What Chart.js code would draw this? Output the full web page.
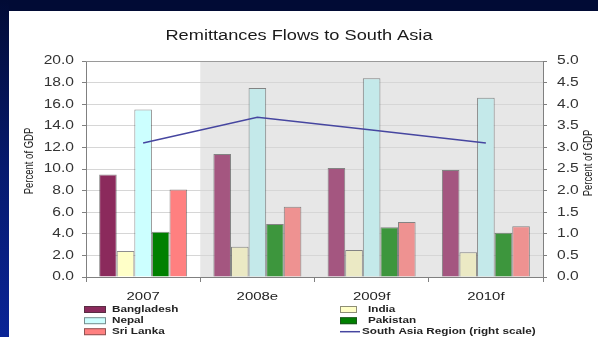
<!DOCTYPE html>
<html>
<head>
<meta charset="utf-8">
<script src="https://cdn.jsdelivr.net/npm/chart.js@4/dist/chart.umd.min.js"></script>
<style>
  html, body { margin: 0; padding: 0; background: #fff; overflow: hidden; }
  canvas { display: block; }
</style>
</head>
<body>
<canvas id="chart" width="598" height="337" style="width:598px;height:337px"></canvas>
<script>
// Remittance flows as a share of GDP, by country (left scale) and region (right scale)
const categories = ['2007', '2008e', '2009f', '2010f'];
const bangladesh = [9.5, 11.4, 10.1, 9.9];
const india      = [2.4, 2.8, 2.5, 2.3];
const nepal      = [15.5, 17.5, 18.4, 16.6];
const pakistan   = [4.2, 4.9, 4.6, 4.1];
const sriLanka   = [8.1, 6.5, 5.1, 4.7];
const southAsia  = [3.1, 3.7, 3.4, 3.1];

// Axis ranges and tick steps
const leftAxis  = { min: 0, max: 20, step: 2 };
const rightAxis = { min: 0, max: 5, step: 0.5 };

const FONT = '"Liberation Sans", Arial, sans-serif';
const TEXT_STRETCH = 1.3;   // text is set wide, as on the slide

// Colours: actual year solid, estimates/forecasts muted
const actualOrForecast = (solid, muted) => categories.map((c, i) => (i === 0 ? solid : muted));
const palette = {
  bangladesh: ['#8b2a5c', '#a45680'],
  india:      ['#ffffc8', '#ebe9c4'],
  nepal:      ['#ccffff', '#c4e9ea'],
  pakistan:   ['#008000', '#3d963d'],
  sriLanka:   ['#ff8080', '#ee9291']
};
const barEdge = 'rgba(50,50,50,0.55)';
const lineColour = '#4646a0';

const canvas = document.getElementById('chart');
const ctx = canvas.getContext('2d');

// Horizontally widened text, anchored on the drawing point
const plainFillText = ctx.fillText;
ctx.fillText = function (text, x, y) {
  this.save();
  this.translate(x, y);
  this.scale(TEXT_STRETCH, 1);
  plainFillText.call(this, text, 0, 0);
  this.restore();
};

function barSet(label, values, colours) {
  return {
    type: 'bar',
    label: label,
    data: values,
    backgroundColor: actualOrForecast(colours[0], colours[1]),
    borderColor: barEdge,
    borderWidth: 1,
    yAxisID: 'y',
    categoryPercentage: 0.77,
    barPercentage: 1.0,
    order: 1,
    legendFill: colours[0]
  };
}

const backdrop = {
  id: 'backdrop',
  beforeDraw(chart) {
    const c = chart.ctx;
    const { left, right, top, bottom } = chart.chartArea;
    c.save();
    c.fillStyle = '#ffffff';
    c.fillRect(0, 0, chart.width, chart.height);
    // slide frame: dark band at the top, blue strip on the left
    c.fillStyle = '#010b35';
    c.fillRect(0, 0, chart.width, 11);
    const g = c.createLinearGradient(0, 0, 0, chart.height);
    g.addColorStop(0, '#010b35');
    g.addColorStop(0.5, '#061a6e');
    g.addColorStop(1, '#0a2496');
    c.fillStyle = g;
    c.fillRect(0, 0, 9, chart.height);
    // shaded estimate / forecast period
    const xs = chart.scales.x;
    const half = (xs.getPixelForValue(1) - xs.getPixelForValue(0)) / 2;
    const start = xs.getPixelForValue(1) - half;
    c.fillStyle = '#e7e7e7';
    c.fillRect(start, top, right - start, bottom - top);
    c.restore();
  },
  afterDraw(chart) {
    const c = chart.ctx;
    const { left, right, top, bottom } = chart.chartArea;
    c.save();
    // plot frame top edge
    c.strokeStyle = '#9a9a9a';
    c.lineWidth = 1;
    c.beginPath();
    c.moveTo(left, top + 0.5);
    c.lineTo(right, top + 0.5);
    c.stroke();

    // axis titles, reading upward
    c.fillStyle = '#222';
    c.font = '9.5px ' + FONT;
    c.textAlign = 'center';
    c.textBaseline = 'middle';
    const midY = (top + bottom) / 2 - 8;
    [[30, midY], [589, midY + 2]].forEach(([x, y]) => {
      c.save();
      c.translate(x, y);
      c.scale(TEXT_STRETCH, 1);
      c.rotate(-Math.PI / 2);
      plainFillText.call(c, 'Percent of GDP', 0, 0);
      c.restore();
    });

    // legend in two columns
    const ds = chart.data.datasets;
    const rows = [309.5, 320.7, 331.7];
    const columns = [
      { items: [0, 2, 4], boxX: 84, boxW: 22, textX: 112 },
      { items: [1, 3, 5], boxX: 340, boxW: 17, textX: 368 }
    ];
    c.font = 'bold 9px ' + FONT;
    c.textAlign = 'left';
    c.textBaseline = 'middle';
    columns.forEach(col => {
      col.items.forEach((idx, r) => {
        const d = ds[idx];
        const y = rows[r];
        if (d.type === 'line') {
          c.strokeStyle = d.borderColor;
          c.lineWidth = 1.5;
          c.beginPath();
          c.moveTo(col.boxX, y);
          c.lineTo(col.boxX + 20, y);
          c.stroke();
          c.fillStyle = '#222';
          c.fillText(d.label, col.boxX + 22, y);
        } else {
          c.fillStyle = d.legendFill;
          c.fillRect(col.boxX, y - 3.5, col.boxW, 7);
          c.strokeStyle = barEdge;
          c.lineWidth = 1;
          c.strokeRect(col.boxX + 0.5, y - 3.5 + 0.5, col.boxW - 1, 6);
          c.fillStyle = '#222';
          c.fillText(d.label, col.textX, y);
        }
      });
    });
    c.restore();
  }
};

const tickFont = { family: FONT, size: 12 };

new Chart(ctx, {
  data: {
    labels: categories,
    datasets: [
      barSet('Bangladesh', bangladesh, palette.bangladesh),
      barSet('India', india, palette.india),
      barSet('Nepal', nepal, palette.nepal),
      barSet('Pakistan', pakistan, palette.pakistan),
      barSet('Sri Lanka', sriLanka, palette.sriLanka),
      {
        type: 'line',
        label: 'South Asia Region (right scale)',
        data: southAsia,
        yAxisID: 'y1',
        borderColor: lineColour,
        borderWidth: 1.5,
        pointRadius: 0,
        tension: 0,
        fill: false,
        order: 0
      }
    ]
  },
  options: {
    responsive: false,
    animation: false,
    events: [],
    layout: { padding: 0 },
    plugins: {
      legend: { display: false },
      tooltip: { enabled: false },
      title: {
        display: true,
        text: 'Remittances Flows to South Asia',
        color: '#1a1a1a',
        font: { family: FONT, size: 14, weight: 'normal' },
        padding: { top: 28, bottom: 16.2 }
      }
    },
    scales: {
      x: {
        offset: true,
        grid: { offset: true, drawOnChartArea: false, drawTicks: true, tickLength: 5, color: '#808080' },
        border: { color: '#808080' },
        ticks: { color: '#222', font: { family: FONT, size: 11.5 }, padding: 8 },
        afterFit(scale) { scale.height = 60; }
      },
      y: {
        position: 'left',
        min: leftAxis.min,
        max: leftAxis.max,
        ticks: {
          stepSize: leftAxis.step,
          callback: v => Number(v).toFixed(1),
          color: '#333',
          font: tickFont,
          padding: 8
        },
        grid: { color: '#d6d6d6', tickColor: '#808080', tickLength: 4 },
        border: { color: '#808080' },
        afterFit(scale) { scale.width = 86; }
      },
      y1: {
        position: 'right',
        min: rightAxis.min,
        max: rightAxis.max,
        ticks: {
          stepSize: rightAxis.step,
          callback: v => Number(v).toFixed(1),
          color: '#333',
          font: tickFont,
          padding: 10
        },
        grid: { drawOnChartArea: false, tickColor: '#808080', tickLength: 4 },
        border: { color: '#808080' },
        afterFit(scale) { scale.width = 55; }
      }
    }
  },
  plugins: [backdrop]
});
</script>
</body>
</html>
